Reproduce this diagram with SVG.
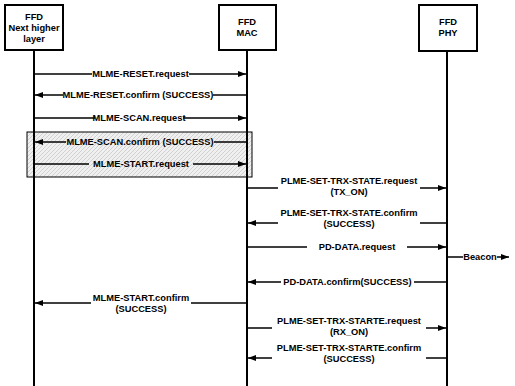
<svg xmlns="http://www.w3.org/2000/svg" width="515" height="386" viewBox="0 0 515 386">
<defs>
<marker id="ah" markerWidth="8" markerHeight="6" refX="8" refY="3" orient="auto" markerUnits="userSpaceOnUse">
<path d="M0,0 L8,3 L0,6 Z" fill="#000"/>
</marker>
<pattern id="hatch" width="4" height="4" patternUnits="userSpaceOnUse">
<rect width="4" height="4" fill="#f0f0f0"/>
<path d="M0,4 L4,0" stroke="#b0b0b0" stroke-width="0.5"/>
</pattern>
<style>
text{font-family:"Liberation Sans",Arial,sans-serif;font-size:9.3px;font-weight:bold;fill:#000;text-anchor:middle}
.box{fill:#fff;stroke:#000;stroke-width:2}
.life{stroke:#000;stroke-width:2}
.msg{stroke:#000;stroke-width:1.5;fill:none}
.arr{marker-end:url(#ah)}
</style>
</defs>
<rect width="515" height="386" fill="#fff"/>
<g id="highlight">
<rect x="27" y="132" width="225" height="45" fill="url(#hatch)" stroke="#000" stroke-width="1"/>
</g>
<g id="nhl">
<rect class="box" x="5" y="5" width="58" height="45"/>
<text x="34" y="19.5">FFD</text>
<text x="34" y="30.5">Next higher</text>
<text x="34" y="41.5">layer</text>
<line class="life" x1="34" y1="50" x2="34" y2="386"/>
</g>
<g id="mac">
<rect class="box" x="219" y="5" width="57" height="45"/>
<text x="247" y="24.5">FFD</text>
<text x="247" y="35.5">MAC</text>
<line class="life" x1="247" y1="50" x2="247" y2="386"/>
</g>
<g id="phy">
<rect class="box" x="419" y="5" width="58" height="46"/>
<text x="448" y="24.5">FFD</text>
<text x="448" y="35.5">PHY</text>
<line class="life" x1="447" y1="51" x2="447" y2="386"/>
</g>
<g id="connectors">
<line class="msg" x1="35" y1="74" x2="92" y2="74"/>
<line class="msg arr" x1="189" y1="74" x2="246" y2="74"/>
<text x="140.5" y="77.3">MLME-RESET.request</text>

<line class="msg arr" x1="63" y1="95" x2="35" y2="95"/>
<line class="msg" x1="213" y1="95" x2="246" y2="95"/>
<text x="138" y="98.3">MLME-RESET.confirm (SUCCESS)</text>

<line class="msg" x1="35" y1="118" x2="95" y2="118"/>
<line class="msg arr" x1="183" y1="118" x2="246" y2="118"/>
<text x="139" y="121.3">MLME-SCAN.request</text>

<line class="msg arr" x1="66" y1="142" x2="35" y2="142"/>
<line class="msg" x1="214" y1="142" x2="246" y2="142"/>
<text x="140" y="145.3">MLME-SCAN.confirm (SUCCESS)</text>

<line class="msg" x1="35" y1="164" x2="89" y2="164"/>
<line class="msg arr" x1="193" y1="164" x2="246" y2="164"/>
<text x="141" y="167.3">MLME-START.request</text>

<line class="msg" x1="248" y1="188" x2="278" y2="188"/>
<line class="msg arr" x1="420" y1="188" x2="446" y2="188"/>
<text x="349" y="184">PLME-SET-TRX-STATE.request</text>
<text x="349" y="195">(TX_ON)</text>

<line class="msg arr" x1="278" y1="223" x2="248" y2="223"/>
<line class="msg" x1="420" y1="223" x2="446" y2="223"/>
<text x="349" y="215.5">PLME-SET-TRX-STATE.confirm</text>
<text x="349" y="227">(SUCCESS)</text>

<line class="msg" x1="248" y1="247" x2="307" y2="247"/>
<line class="msg arr" x1="407" y1="247" x2="446" y2="247"/>
<text x="357" y="250.3">PD-DATA.request</text>

<line class="msg" x1="448" y1="257" x2="463" y2="257"/>
<line class="msg arr" x1="497" y1="257" x2="509" y2="257"/>
<text x="480" y="260.3">Beacon</text>

<line class="msg arr" x1="281" y1="282" x2="248" y2="282"/>
<line class="msg" x1="414" y1="282" x2="446" y2="282"/>
<text x="347.5" y="285.3">PD-DATA.confirm(SUCCESS)</text>

<line class="msg arr" x1="91" y1="303" x2="35" y2="303"/>
<line class="msg" x1="191" y1="303" x2="246" y2="303"/>
<text x="141" y="301">MLME-START.confirm</text>
<text x="141" y="312">(SUCCESS)</text>

<line class="msg" x1="248" y1="328" x2="272" y2="328"/>
<line class="msg arr" x1="426" y1="328" x2="446" y2="328"/>
<text x="349" y="323.5">PLME-SET-TRX-STARTE.request</text>
<text x="349" y="335">(RX_ON)</text>

<line class="msg arr" x1="272" y1="358" x2="248" y2="358"/>
<line class="msg" x1="426" y1="358" x2="446" y2="358"/>
<text x="349" y="350.5">PLME-SET-TRX-STARTE.confirm</text>
<text x="349" y="362">(SUCCESS)</text>
</g>
</svg>
